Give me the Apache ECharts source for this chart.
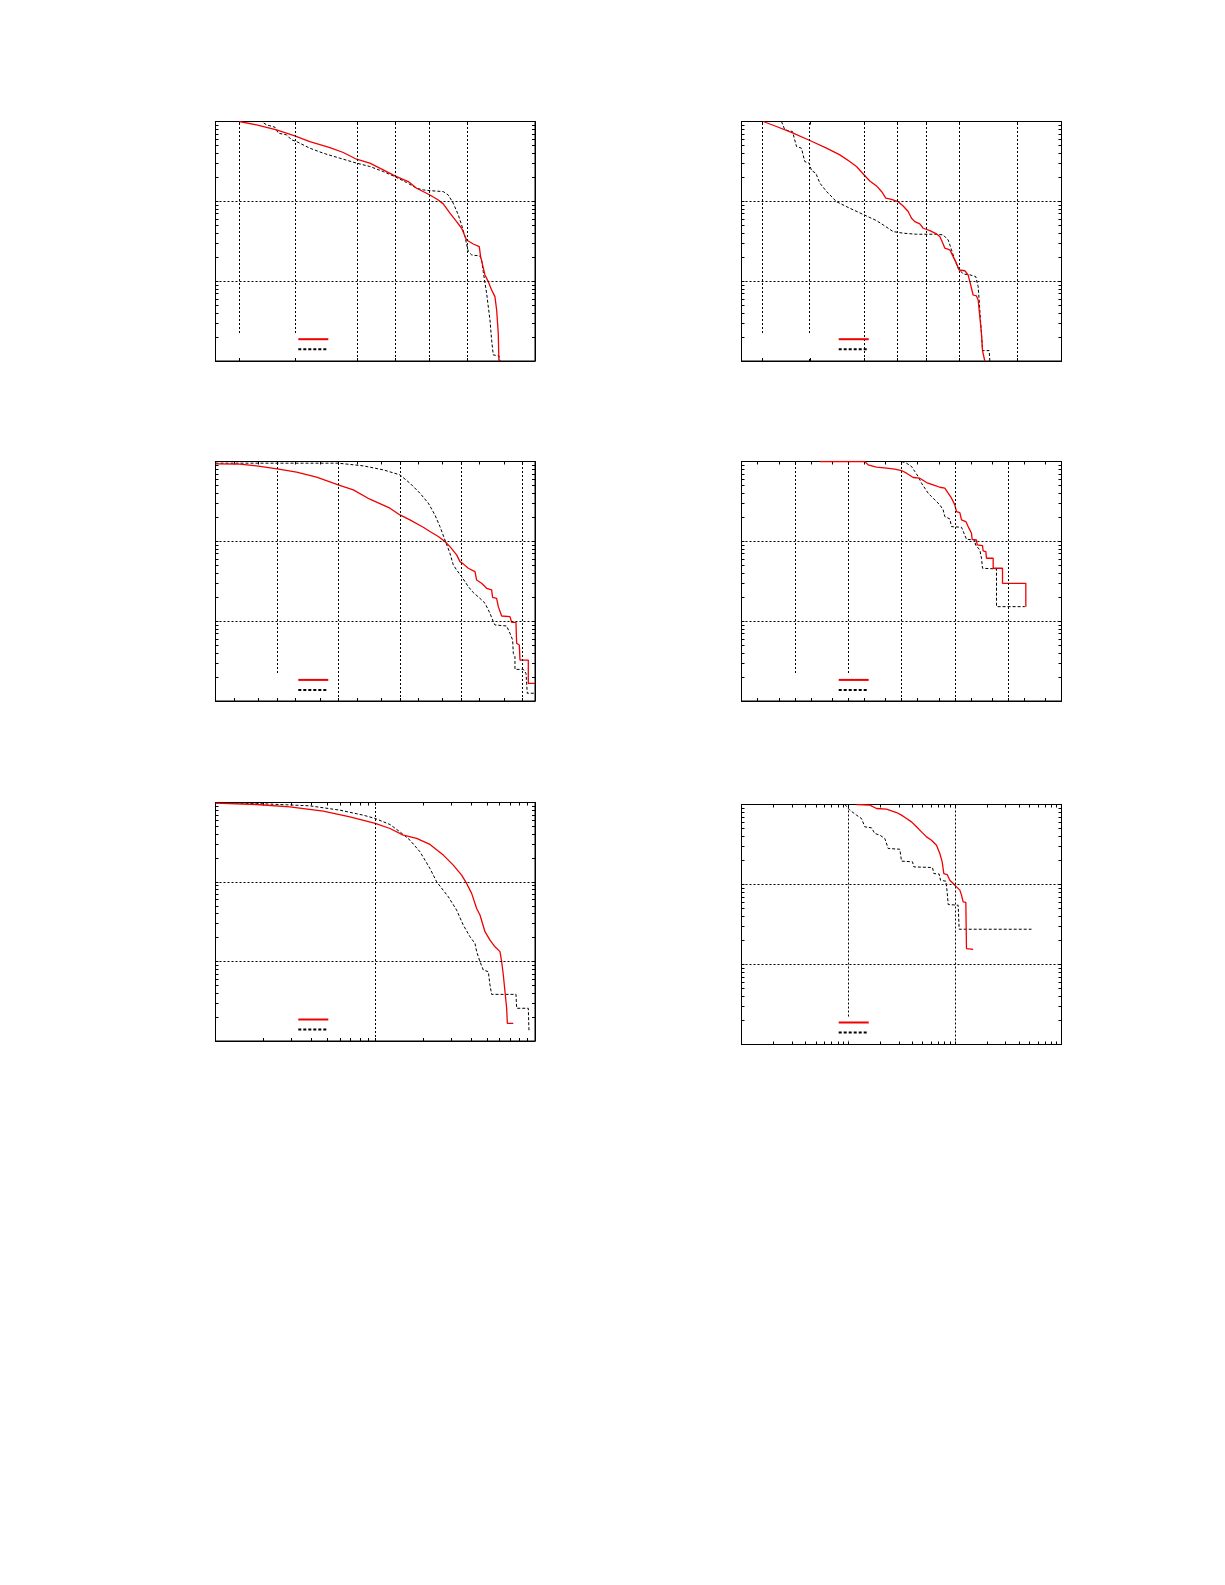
<!DOCTYPE html>
<html><head><meta charset="utf-8">
<script src="https://cdn.jsdelivr.net/npm/echarts@6/dist/echarts.min.js"></script>
<style>html,body{margin:0;padding:0;background:#fff}#c{width:1225px;height:1585px}</style>
</head><body><div id="c"></div>
<script>
// ---------- data (x in axis units, y = fraction) ----------
const p1GridX = [2.41, 19.3, 193, 800, 2794, 11460];
const p2GridX = [2.43, 18.8, 193, 807, 2800, 11380, 137000];
const p3GridX = [10, 100, 1000, 10000, 100000];
const p4GridX = [10, 100, 1000, 10000, 100000];
const p5GridX = [10];
const p6GridX = [10, 100];
const gridY = [0.1, 0.01];
const xMaxes = [141600, 918000, 158900, 1000000, 100, 1000];
const tickMultsY = [1, 2, 3, 4, 5, 6, 7, 8, 9];
const tickMultsX = [null, null, [1, 2, 5], [1, 2, 5], [1, 2, 3, 4, 5, 6, 7, 8, 9], [1, 2, 3, 4, 5, 6, 7, 8, 9]];

const p1Red = [[2.41,1],[4.58,0.908],[9.64,0.786],[19.0,0.661],[33.2,0.561],[69.8,0.472],[115,0.409],[188,0.337],[308,0.301],[506,0.248],[780,0.208],[1282,0.177],[1746,0.146],[2866,0.120],[3902,0.104],[4699,0.0929],[6026,0.0710],[7709,0.0557],[9290,0.0460],[11170,0.0328],[14320,0.0292],[17900,0.0271],[18800,0.0203],[22100,0.01197],[25000,0.00986],[28300,0.00776],[32000,0.00640],[34100,0.00435],[36200,0.00222],[37100,0.001]];
const p1Black = [[2.41,1],[5.52,1],[6.65,0.908],[9.06,0.849],[10.3,0.714],[14.0,0.680],[16.8,0.589],[20.2,0.561],[33.2,0.463],[54.5,0.401],[101,0.347],[188,0.301],[308,0.273],[506,0.236],[780,0.204],[1204,0.172],[1746,0.146],[2234,0.139],[2866,0.136],[4699,0.1325],[5660,0.120],[6810,0.0947],[8200,0.0676],[9290,0.0507],[10500,0.0362],[11900,0.0235],[13500,0.0213],[18300,0.0207],[19500,0.0184],[20700,0.0132],[23500,0.00705],[26600,0.00327],[28300,0.00183],[30100,0.00119],[37100,0.00116],[38500,0.001]];

const p2Red = [[2.53,1],[4.49,0.866],[9.18,0.714],[18.8,0.578],[38.4,0.463],[68.0,0.382],[104,0.315],[139,0.273],[193,0.214],[246,0.180],[328,0.156],[406,0.133],[489,0.110],[624,0.106],[830,0.0991],[1028,0.0875],[1276,0.0746],[1472,0.0614],[1698,0.0557],[2103,0.0522],[2427,0.0460],[3231,0.0430],[4300,0.0391],[4963,0.0362],[5728,0.0293],[6152,0.0259],[7620,0.0247],[8790,0.0203],[10140,0.0167],[11380,0.0138],[14500,0.0135],[16700,0.0120],[18000,0.00986],[20700,0.00671],[23900,0.00652],[25700,0.00582],[27600,0.00358],[29600,0.00222],[31000,0.00134],[32800,0.00134],[34200,0.001]];
const p2Black = [[2.36,1],[5.56,1],[6.42,0.786],[8.91,0.749],[10.6,0.486],[13.1,0.463],[15.1,0.315],[18.2,0.301],[20.2,0.243],[24.3,0.225],[28.8,0.169],[38.4,0.133],[58.9,0.0991],[104,0.0820],[193,0.0676],[328,0.0574],[436,0.0507],[670,0.0418],[1028,0.0399],[1824,0.0387],[4300,0.0387],[5728,0.0380],[7100,0.0328],[8190,0.0247],[9440,0.0184],[10890,0.0145],[13500,0.0123],[18000,0.0120],[23200,0.0114],[25700,0.00855],[26800,0.00582],[28400,0.00327],[29600,0.00222],[31000,0.00135],[41200,0.00135],[42400,0.001]];

const p3Red = [[1,0.935],[2.49,0.926],[4.65,0.882],[10.1,0.809],[20.9,0.735],[44.2,0.636],[99.6,0.510],[175,0.441],[326,0.337],[691,0.260],[1005,0.214],[1462,0.186],[2411,0.150],[3097,0.133],[4235,0.115],[5435,0.0993],[6555,0.0859],[8420,0.0676],[9540,0.0557],[10800,0.0522],[13040,0.0460],[16740,0.0418],[17810,0.0328],[21480,0.0298],[25920,0.0258],[31260,0.0247],[32450,0.0199],[37730,0.0193],[40150,0.0152],[45520,0.0116],[62180,0.0114],[66230,0.00968],[77860,0.00968],[79840,0.00528],[88270,0.00503],[90500,0.00326],[123600,0.00326],[123600,0.00166],[158800,0.00166]];
const p3Black = [[1,0.953],[99.6,0.953],[254,0.882],[538,0.786],[1005,0.680],[1462,0.535],[2128,0.401],[2911,0.301],[3733,0.214],[4505,0.153],[5435,0.104],[6555,0.0710],[7430,0.0507],[8420,0.0438],[10150,0.0362],[13040,0.0271],[15730,0.0228],[20200,0.0193],[24360,0.0168],[29390,0.01256],[33270,0.00986],[35400,0.00896],[54860,0.00871],[62180,0.00705],[68710,0.00581],[70480,0.00395],[74990,0.00359],[74990,0.00249],[102600,0.00249],[113300,0.00222],[119100,0.00125],[158800,0.00125]];

const p4Red = [[29.4,1],[205,1],[237,0.908],[340,0.849],[523,0.825],[750,0.801],[1000,0.771],[1241,0.714],[1655,0.630],[2207,0.618],[2942,0.545],[3925,0.510],[5234,0.476],[6494,0.463],[7499,0.401],[8660,0.347],[10000,0.286],[10740,0.236],[12410,0.229],[13340,0.186],[16080,0.177],[17780,0.153],[20540,0.126],[21130,0.106],[25480,0.104],[26240,0.0901],[33030,0.0885],[33970,0.0759],[38120,0.0744],[39250,0.0614],[52340,0.0614],[52340,0.0460],[78300,0.0460],[78300,0.0298],[214300,0.0298],[214300,0.0152]];
const p4Black = [[1000,1],[1241,0.953],[1540,0.866],[1778,0.749],[2054,0.648],[2371,0.535],[2738,0.463],[3162,0.401],[3652,0.364],[4530,0.315],[5234,0.286],[6040,0.248],[6494,0.204],[8058,0.191],[8660,0.153],[13340,0.150],[16550,0.106],[23710,0.104],[24410,0.0901],[29420,0.0781],[31620,0.0614],[33030,0.0460],[60430,0.0451],[60430,0.0152],[205400,0.0152]];

const p5Red = [[1,0.981],[1.806,0.944],[2.922,0.882],[4.725,0.778],[6.94,0.661],[10,0.545],[12.36,0.471],[14.98,0.388],[18.15,0.353],[22.0,0.297],[26.67,0.218],[30.8,0.163],[34.73,0.122],[37.33,0.0959],[40.12,0.0719],[43.13,0.0465],[45.25,0.0384],[48.63,0.0237],[52.27,0.0186],[56.18,0.0153],[60.37,0.0133],[61.84,0.00994],[63.35,0.00676],[64.89,0.00417],[66.47,0.00258],[67.11,0.00167],[73.14,0.00167]];
const p5Black = [[1,0.990],[1.806,0.971],[3.898,0.908],[6.006,0.801],[8.41,0.693],[10,0.629],[12.36,0.529],[14.27,0.428],[16.49,0.336],[19.05,0.240],[22.0,0.148],[24.22,0.1007],[28.66,0.0652],[32.31,0.0443],[35.57,0.0287],[39.17,0.0205],[42.10,0.0169],[43.13,0.0133],[45.25,0.00994],[47.47,0.00781],[51.03,0.00744],[52.27,0.00506],[53.54,0.00386],[76.03,0.00386],[76.76,0.00258],[90.82,0.00258],[91.7,0.00131]];

const p6Red = [[11.97,1],[15.97,0.981],[18.44,0.891],[22.87,0.874],[28.39,0.794],[31.62,0.736],[35.23,0.668],[39.24,0.607],[43.72,0.526],[48.70,0.455],[54.25,0.394],[60.42,0.358],[67.31,0.310],[72.34,0.244],[76.07,0.192],[78.87,0.137],[84.75,0.133],[89.76,0.113],[96.47,0.103],[103.7,0.0935],[111.4,0.0850],[115.5,0.0736],[119.7,0.0607],[126.8,0.0596],[128.6,0.0158],[148.6,0.0155]];
const p6Black = [[9.31,1],[10.36,0.850],[11.97,0.736],[13.34,0.668],[14.33,0.526],[16.55,0.511],[17.78,0.434],[19.81,0.414],[22.07,0.376],[23.71,0.282],[30.5,0.276],[31.62,0.196],[40.1,0.192],[41.27,0.166],[61.74,0.163],[63.55,0.137],[71.31,0.135],[73.38,0.113],[82.35,0.110],[84.75,0.0810],[86.6,0.0562],[107.5,0.0551],[109.8,0.0276],[523.3,0.0276]];

// ---------- layout ----------
const layouts = [
  {grid:{left:215.5, top:121.5, width:319.5, height:239.5}, legX:297.3, legY:340,  boxRight:333},
  {grid:{left:741.5, top:121.5, width:320,   height:239.5}, legX:837.7, legY:340,  boxRight:856},
  {grid:{left:215.5, top:461.5, width:319.5, height:239.5}, legX:297.3, legY:680.7, boxRight:333},
  {grid:{left:741.5, top:461.5, width:320,   height:239.5}, legX:837.7, legY:680.7, boxRight:856},
  {grid:{left:215.5, top:802.5, width:319.5, height:238.5}, legX:297.3, legY:1020.3, boxRight:333},
  {grid:{left:741.5, top:804.5, width:320,   height:240},   legX:837.7, legY:1023.3, boxRight:856}
];
const reds = [p1Red, p2Red, p3Red, p4Red, p5Red, p6Red];
const blacks = [p1Black, p2Black, p3Black, p4Black, p5Black, p6Black];
const gridsX = [p1GridX, p2GridX, p3GridX, p4GridX, p5GridX, p6GridX];

const L = Math.log10;
const toLog = arr => arr.map(([x, y]) => [L(x), L(y)]);

function decadeTicks(minExp, maxLog, mults) {
  const out = [];
  for (let d = minExp; d <= Math.ceil(maxLog); d++) {
    mults.forEach(m => { const v = L(m) + d; if (v <= maxLog + 1e-9) out.push(v); });
  }
  return out;
}
const yTicks = decadeTicks(-3, 0, tickMultsY);

const option = {
  animation: false,
  backgroundColor: '#fff',
  grid: [], xAxis: [], yAxis: [], series: [], legend: [],
  graphic: {elements: []}
};

const RED = '#f00000';
const axisCommon = {
  axisLabel: {show: false}, splitLine: {show: false}
};
layouts.forEach((lay, i) => {
  const xMaxLog = L(xMaxes[i]);
  option.grid.push(Object.assign({show: true, borderColor: '#000', borderWidth: 1, backgroundColor: 'transparent', containLabel: false}, lay.grid));
  const xt = tickMultsX[i] ? decadeTicks(0, xMaxLog, tickMultsX[i]) : gridsX[i].map(L);
  ['bottom', 'top'].forEach(pos => {
    option.xAxis.push(Object.assign({
      type: 'value', gridIndex: i, position: pos, min: 0, max: xMaxLog,
      axisLine: {show: true, onZero: false, lineStyle: {color: '#000', width: 1}},
      axisTick: {show: true, inside: true, length: 3, customValues: xt, lineStyle: {color: '#000', width: 1}}
    }, axisCommon));
  });
  ['left', 'right'].forEach(pos => {
    option.yAxis.push(Object.assign({
      type: 'value', gridIndex: i, position: pos, min: -3, max: 0,
      axisLine: {show: true, onZero: false, lineStyle: {color: '#000', width: 1}},
      axisTick: {show: true, inside: true, length: 3, customValues: yTicks, lineStyle: {color: '#000', width: 1}}
    }, axisCommon));
  });
  const gridLines = gridsX[i].map(v => ({xAxis: L(v)})).concat(gridY.map(v => ({yAxis: L(v)})));
  const redName = 'series ' + (i + 1) + 'a';
  const blackName = 'series ' + (i + 1) + 'b';
  option.series.push({
    type: 'line', name: blackName, xAxisIndex: 2 * i, yAxisIndex: 2 * i,
    data: toLog(blacks[i]), symbol: 'none', showSymbol: false, silent: true, z: 2,
    lineStyle: {color: '#000', width: 1, type: [3, 2]}, itemStyle: {color: '#000', opacity: 0},
    emphasis: {disabled: true}
  });
  option.series.push({
    type: 'line', name: redName, xAxisIndex: 2 * i, yAxisIndex: 2 * i,
    data: toLog(reds[i]), symbol: 'none', showSymbol: false, silent: true, z: 3,
    lineStyle: {color: RED, width: 1.3}, itemStyle: {color: RED, opacity: 0},
    emphasis: {disabled: true},
    markLine: {
      silent: true, symbol: ['none', 'none'], label: {show: false},
      lineStyle: {color: '#000', width: 1, type: [2, 2]},
      emphasis: {disabled: true}, animation: false, data: gridLines
    }
  });
  option.legend.push({
    orient: 'vertical', left: lay.legX, top: lay.legY - 4, padding: 0,
    itemWidth: 30, itemHeight: 8, itemGap: 3.7, selectedMode: false, z: 8,
    itemStyle: {opacity: 0, borderWidth: 0},
    data: [redName, blackName], formatter: () => '',
    textStyle: {fontSize: 6, lineHeight: 8}
  });
  const g = lay.grid;
  option.graphic.elements.push({
    type: 'rect', silent: true, z: 6,
    shape: {x: g.left + 4, y: lay.legY - 6, width: lay.boxRight - g.left - 4, height: g.top + g.height - 4 - (lay.legY - 6)},
    style: {fill: '#fff'}
  });
});

const chart = echarts.init(document.getElementById('c'), null, {renderer: 'canvas'});
chart.setOption(option);
</script>
</body></html>
